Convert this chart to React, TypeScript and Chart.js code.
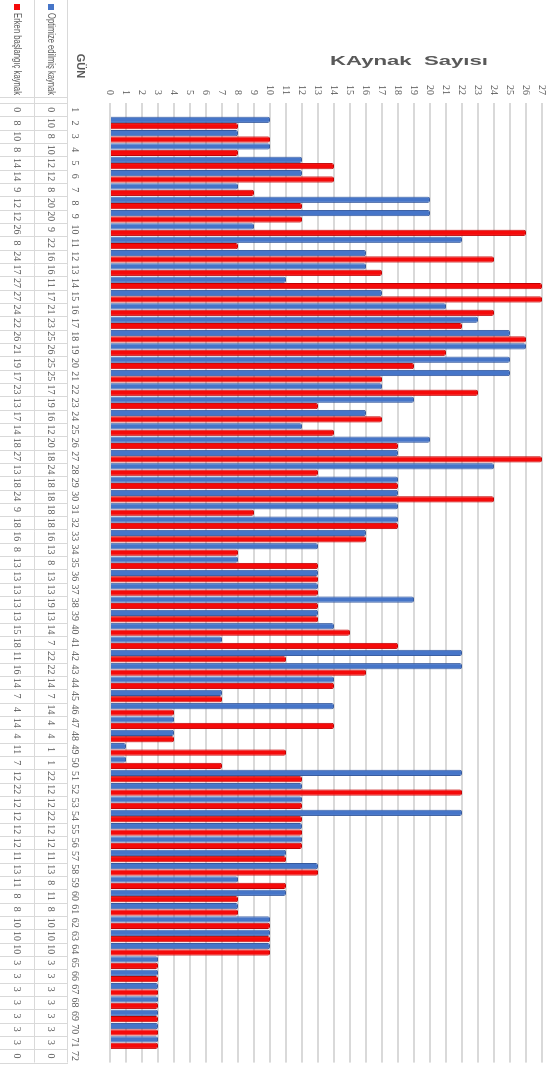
import React, { useEffect, useRef } from "react";
import { Chart, registerables } from "chart.js";

Chart.register(...registerables);

const days: string[] = [
  "1", "2", "3", "4", "5", "6", "7", "8", "9", "10",
  "11", "12", "13", "14", "15", "16", "17", "18", "19", "20",
  "21", "22", "23", "24", "25", "26", "27", "28", "29", "30",
  "31", "32", "33", "34", "35", "36", "37", "38", "39", "40",
  "41", "42", "43", "44", "45", "46", "47", "48", "49", "50",
  "51", "52", "53", "54", "55", "56", "57", "58", "59", "60",
  "61", "62", "63", "64", "65", "66", "67", "68", "69", "70",
  "71", "72",
];

const optimized: number[] = [
  0, 10, 8, 10, 12, 12, 8, 20, 20, 9,
  22, 16, 16, 11, 17, 21, 23, 25, 26, 25,
  25, 17, 19, 16, 12, 20, 18, 24, 18, 18,
  18, 18, 16, 13, 8, 13, 13, 19, 13, 14,
  7, 22, 22, 14, 7, 14, 4, 4, 1, 1,
  22, 12, 12, 22, 12, 12, 11, 13, 8, 11,
  8, 10, 10, 10, 3, 3, 3, 3, 3, 3,
  3, 0,
];

const early: number[] = [
  0, 8, 10, 8, 14, 14, 9, 12, 12, 26,
  8, 24, 17, 27, 27, 24, 22, 26, 21, 19,
  17, 23, 13, 17, 14, 18, 27, 13, 18, 24,
  9, 18, 16, 8, 13, 13, 13, 13, 13, 15,
  18, 11, 16, 14, 7, 4, 14, 4, 11, 7,
  12, 22, 12, 12, 12, 12, 11, 13, 11, 8,
  8, 10, 10, 10, 3, 3, 3, 3, 3, 3,
  3, 0,
];

const seriesNames = ["Optimize edilmiş kaynak", "Erken başlangıç kaynak"];
const axisTitle = "KAynak  Sayısı";
const categoryTitle = "GÜN";

const BLUE = "#4675C8";
const BLUE_EDGE = "#35599E";
const RED = "#F50A0A";
const RED_EDGE = "#C00000";
const TEXT = "#595959";
const GRID = "#D9D9D9";

const W = 1090;
const H = 556;

const tablePlugin = {
  id: "dataTable",
  afterDraw(chart: any) {
    const { ctx, chartArea, scales } = chart;
    const xs = scales.x;
    const half = (xs.getPixelForValue(1) - xs.getPixelForValue(0)) / 2;
    const rowTop = 488;
    const rowMid = 521;
    const rowBot = 556;
    ctx.save();
    ctx.strokeStyle = GRID;
    ctx.lineWidth = 1;
    ctx.beginPath();
    ctx.moveTo(0, rowTop + 0.5);
    ctx.lineTo(chartArea.right, rowTop + 0.5);
    ctx.moveTo(0, rowMid + 0.5);
    ctx.lineTo(chartArea.right, rowMid + 0.5);
    ctx.moveTo(97.5, rowTop);
    ctx.lineTo(97.5, rowBot);
    for (let i = 0; i <= days.length; i++) {
      const px = Math.round(xs.getPixelForValue(i) - half) + 0.5;
      ctx.moveTo(px, rowTop);
      ctx.lineTo(px, rowBot);
    }
    ctx.stroke();

    ctx.fillStyle = TEXT;
    ctx.font = '10px "Liberation Serif"';
    ctx.textAlign = "center";
    ctx.textBaseline = "middle";
    optimized.forEach((v, i) => {
      ctx.fillText(String(v), xs.getPixelForValue(i), 505, 11);
    });
    early.forEach((v, i) => {
      ctx.fillText(String(v), xs.getPixelForValue(i), 539, 11);
    });

    // legend keys and names
    ctx.fillStyle = BLUE;
    ctx.fillRect(4, 502, 6, 6);
    ctx.fillStyle = RED;
    ctx.fillRect(4, 536, 6, 6);
    ctx.fillStyle = TEXT;
    ctx.font = '10px "Liberation Sans"';
    ctx.textAlign = "left";
    ctx.fillText(seriesNames[0], 13, 505, 82);
    ctx.fillText(seriesNames[1], 13, 539, 82);

    // category title
    ctx.font = 'bold 11px "Liberation Sans"';
    ctx.textAlign = "center";
    ctx.fillText(categoryTitle, 66, 476);

    // value axis title
    ctx.save();
    ctx.translate(61, 147);
    ctx.rotate(-Math.PI / 2);
    ctx.font = 'bold 13px "Liberation Sans"';
    const m = ctx.measureText(axisTitle).width;
    ctx.scale(158 / m, 1);
    ctx.textAlign = "center";
    ctx.textBaseline = "middle";
    ctx.fillStyle = TEXT;
    ctx.fillText(axisTitle, 0, 0);
    ctx.restore();

    ctx.restore();
  },
};

function App() {
  const ref = useRef<HTMLCanvasElement | null>(null);

  useEffect(() => {
    document.body.style.overflow = "hidden";
    const canvas = ref.current;
    if (!canvas) return;
    const chart = new Chart(canvas, {
      type: "bar",
      data: {
        labels: days,
        datasets: [
          {
            label: seriesNames[0],
            data: optimized,
            backgroundColor: BLUE,
            borderColor: BLUE_EDGE,
            borderWidth: 1,
            borderRadius: 2,
            borderSkipped: "bottom",
            categoryPercentage: 0.96,
            barPercentage: 0.98,
          },
          {
            label: seriesNames[1],
            data: early,
            backgroundColor: RED,
            borderColor: RED_EDGE,
            borderWidth: 1,
            borderRadius: 2,
            borderSkipped: "bottom",
            categoryPercentage: 0.96,
            barPercentage: 0.98,
          },
        ],
      },
      options: {
        responsive: false,
        animation: false,
        devicePixelRatio: 1,
        layout: { padding: { top: 5, right: 11, left: 0, bottom: 0 } },
        plugins: {
          legend: { display: false },
          tooltip: { enabled: false },
          title: { display: false },
        },
        scales: {
          x: {
            grid: { display: false, drawTicks: false },
            border: { display: false },
            ticks: {
              autoSkip: false,
              minRotation: 0,
              maxRotation: 0,
              padding: 29,
              color: TEXT,
              font: { family: "Liberation Serif", size: 10 },
            },
            afterFit: (scale: any) => {
              scale.height = 110;
            },
          },
          y: {
            min: 0,
            max: 27,
            grid: { color: GRID, lineWidth: 2, drawTicks: false },
            border: { display: false },
            ticks: {
              stepSize: 1,
              autoSkip: false,
              maxTicksLimit: 40,
              padding: 8,
              color: TEXT,
              font: { family: "Liberation Serif", size: 10 },
            },
            afterFit: (scale: any) => {
              scale.width = 103;
            },
          },
        },
      },
      plugins: [tablePlugin],
    });
    return () => chart.destroy();
  }, []);

  return (
    <div
      style={{
        position: "absolute",
        left: 0,
        top: 0,
        width: W,
        height: H,
        transformOrigin: "0 0",
        transform: `translate(${H}px, 0px) rotate(90deg)`,
        background: "#ffffff",
      }}
    >
      <canvas ref={ref} width={W} height={H} style={{ width: W, height: H, display: "block" }} />
    </div>
  );
}

export default App;
